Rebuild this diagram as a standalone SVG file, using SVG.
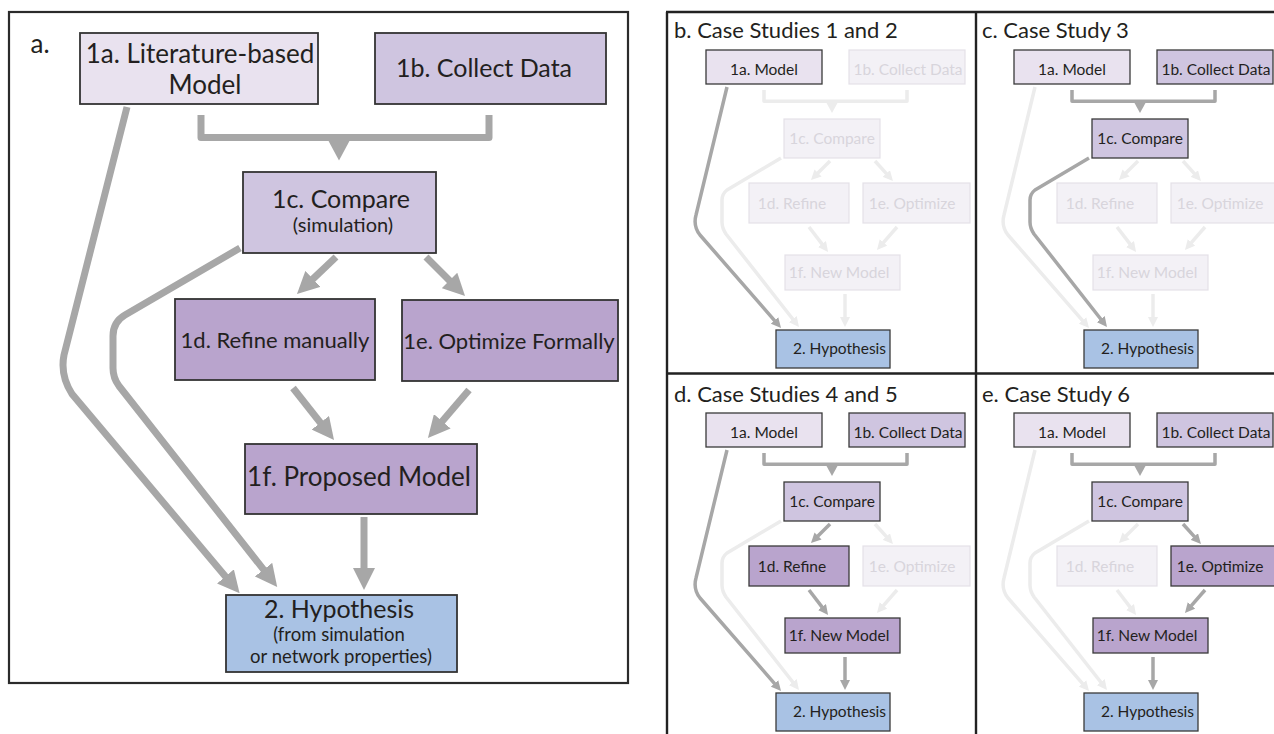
<svg xmlns="http://www.w3.org/2000/svg" width="1274" height="734" viewBox="0 0 1274 734">
<style>
text{font-family:Lato,"Open Sans","Liberation Sans",sans-serif;fill:#231f20;text-anchor:middle}
.frame{fill:none;stroke:#2b2b2b;stroke-width:2.2}
.bx{stroke:#333;stroke-width:1.8}
.sb{stroke:#3a3a3a;stroke-width:1.3}
.c1{fill:#e9e2ef}.c2{fill:#cfc5e0}.c3{fill:#b9a4cd}.c4{fill:#a9c2e4}
.big{font-size:25px}.mid{font-size:22px}.sm{font-size:18.5px}.mini{font-size:15.5px}
.title{font-size:22px;text-anchor:start}
.fade rect{fill:#f3f1f6;stroke:#e4e1e8;stroke-width:1.2}
.fade text{fill:#d8d5dc}
.la{fill:none;stroke:#a7a7a7;stroke-width:7;stroke-linejoin:round}
.lb{fill:none;stroke:#a7a7a7;stroke-width:3.5;stroke-linejoin:round}
.lf{fill:none;stroke:#ececec;stroke-width:3.5;stroke-linejoin:round}
.ta{fill:#a7a7a7}.tf{fill:#ececec}
</style>
<defs>
<marker id="ahA" viewBox="0 0 22 22" markerUnits="userSpaceOnUse" markerWidth="22" markerHeight="22" refX="1" refY="11" orient="auto"><path d="M0,0 L22,11 L0,22 z" fill="#a7a7a7"/></marker>
<marker id="ahB" viewBox="0 0 10 10" markerUnits="userSpaceOnUse" markerWidth="10" markerHeight="10" refX="0.5" refY="5" orient="auto"><path d="M0,0 L10,5 L0,10 z" fill="#a7a7a7"/></marker>
<marker id="ahF" viewBox="0 0 10 10" markerUnits="userSpaceOnUse" markerWidth="10" markerHeight="10" refX="0.5" refY="5" orient="auto"><path d="M0,0 L10,5 L0,10 z" fill="#ececec"/></marker>
</defs>

<!-- Panel a -->
<g id="panel-a">
<rect class="frame" x="9" y="12" width="619" height="671"/>
<text x="40" y="53" style="font-size:26px">a.</text>
<g id="a-connectors">
<path class="la" d="M201,115 V137.5 H489 V115" stroke-linejoin="miter"/>
<polygon class="ta" points="328,140 350,140 339,160.5"/>
<path class="la" d="M336,257 L312.2,279.6" marker-end="url(#ahA)"/>
<path class="la" d="M426,257 L450.2,281.2" marker-end="url(#ahA)"/>
<path class="la" d="M293,388 L321,423.5" marker-end="url(#ahA)"/>
<path class="la" d="M469,390 L441.6,422" marker-end="url(#ahA)"/>
<path class="la" d="M364,517 L364,569" marker-end="url(#ahA)"/>
<path class="la" d="M127,107 L64,355 Q60,375 72,394 L226.1,577.2" marker-end="url(#ahA)"/>
<path class="la" d="M240,248 L125,315 Q113,322 113,336 L113,368 Q113,378 119,386 L264.2,570.4" marker-end="url(#ahA)"/>
</g>
<g id="a-1a"><rect class="bx c1" x="80" y="33" width="238" height="71"/><text class="big" x="200" y="63" style="font-size:26px">1a. Literature-based</text><text class="big" x="205" y="94" style="font-size:26px">Model</text></g>
<g id="a-1b"><rect class="bx c2" x="375" y="33" width="231" height="71"/><text class="big" x="484" y="77">1b. Collect Data</text></g>
<g id="a-1c"><rect class="bx c2" x="243" y="172" width="193" height="81"/><text class="big" x="341" y="208">1c. Compare</text><text class="sm" x="343" y="232" style="font-size:20px">(simulation)</text></g>
<g id="a-1d"><rect class="bx c3" x="175" y="299" width="200" height="81"/><text class="mid" x="275" y="348">1d. Refine manually</text></g>
<g id="a-1e"><rect class="bx c3" x="402" y="300" width="216" height="81"/><text class="mid" x="509" y="349">1e. Optimize Formally</text></g>
<g id="a-1f"><rect class="bx c3" x="245" y="444" width="232" height="70"/><text class="big" x="359" y="486" style="font-size:26px">1f. Proposed Model</text></g>
<g id="a-2"><rect class="bx c4" x="226" y="595" width="231" height="77"/><text class="big" x="339" y="618">2. Hypothesis</text><text class="sm" x="339" y="641">(from simulation</text><text class="sm" x="341" y="663">or network properties)</text></g>
</g>

<!-- Right frames -->
<g id="frames-right" fill="none" stroke="#222" stroke-width="2.4">
<path d="M666,12 H1274 M667,12 V734 M976,12 V734 M666,373.5 H1274"/>
</g>

<!-- Panel b -->
<g id="panel-b">
<text class="title" x="674" y="38">b. Case Studies 1 and 2</text>
<g id="b-connectors">
<path class="lf" d="M764,90 V101.3 H907 V90" stroke-linejoin="miter"/>
<polygon class="tf" points="826.5,103 837.5,103 832,113"/>
<path class="lf" d="M781,158 L727,190 Q722,194 722,200 L722,222 Q722,228 726,234 L793.1,319.5" marker-end="url(#ahF)"/>
<path class="lf" d="M830,161 L817.7,173.3" marker-end="url(#ahF)"/>
<path class="lf" d="M875,161 L886.6,173.9" marker-end="url(#ahF)"/>
<path class="lf" d="M809,227 L822.3,244.4" marker-end="url(#ahF)"/>
<path class="lf" d="M897,227 L883.2,242.8" marker-end="url(#ahF)"/>
<path class="lf" d="M845,294 L845,317.5" marker-end="url(#ahF)"/>
<path class="lb" d="M727,87 L696,215 Q693,226 700,235 L774.8,320.8" marker-end="url(#ahB)"/>
</g>
<g id="b-1a"><rect class="sb c1" x="706" y="50" width="116" height="34"/><text class="mini" x="764" y="75">1a. Model</text></g>
<g id="b-1b" class="fade"><rect x="849" y="50" width="116" height="34"/><text class="mini" x="908" y="75">1b. Collect Data</text></g>
<g id="b-1c" class="fade"><rect x="784" y="119" width="96" height="39"/><text class="mini" x="832" y="144">1c. Compare</text></g>
<g id="b-1d" class="fade"><rect x="749" y="183" width="100" height="40"/><text class="mini" x="792" y="209">1d. Refine</text></g>
<g id="b-1e" class="fade"><rect x="863" y="183" width="107" height="40"/><text class="mini" x="912" y="209">1e. Optimize</text></g>
<g id="b-1f" class="fade"><rect x="785" y="255" width="115" height="35"/><text class="mini" x="839" y="278">1f. New Model</text></g>
<g id="b-2"><rect class="sb c4" x="776" y="330" width="114" height="38"/><text class="mini" x="839.5" y="354">2. Hypothesis</text></g>
</g>

<!-- Panel c -->
<g id="panel-c" transform="translate(308,0)">
<text class="title" x="674" y="38">c. Case Study 3</text>
<g id="c-connectors">
<path class="lf" d="M727,87 L696,215 Q693,226 700,235 L774.8,320.8" marker-end="url(#ahF)"/>
<path class="lf" d="M830,161 L817.7,173.3" marker-end="url(#ahF)"/>
<path class="lf" d="M875,161 L886.6,173.9" marker-end="url(#ahF)"/>
<path class="lf" d="M809,227 L822.3,244.4" marker-end="url(#ahF)"/>
<path class="lf" d="M897,227 L883.2,242.8" marker-end="url(#ahF)"/>
<path class="lf" d="M845,294 L845,317.5" marker-end="url(#ahF)"/>
<path class="lb" d="M764,90 V101.3 H907 V90" stroke-linejoin="miter"/>
<polygon class="ta" points="826.5,103 837.5,103 832,113"/>
<path class="lb" d="M781,158 L727,190 Q722,194 722,200 L722,222 Q722,228 726,234 L793.1,319.5" marker-end="url(#ahB)"/>
</g>
<g id="c-1a"><rect class="sb c1" x="706" y="50" width="116" height="34"/><text class="mini" x="764" y="75">1a. Model</text></g>
<g id="c-1b"><rect class="sb c2" x="849" y="50" width="116" height="34"/><text class="mini" x="908" y="75">1b. Collect Data</text></g>
<g id="c-1c"><rect class="sb c2" x="784" y="119" width="96" height="39"/><text class="mini" x="832" y="144">1c. Compare</text></g>
<g id="c-1d" class="fade"><rect x="749" y="183" width="100" height="40"/><text class="mini" x="792" y="209">1d. Refine</text></g>
<g id="c-1e" class="fade"><rect x="863" y="183" width="107" height="40"/><text class="mini" x="912" y="209">1e. Optimize</text></g>
<g id="c-1f" class="fade"><rect x="785" y="255" width="115" height="35"/><text class="mini" x="839" y="278">1f. New Model</text></g>
<g id="c-2"><rect class="sb c4" x="776" y="330" width="114" height="38"/><text class="mini" x="839.5" y="354">2. Hypothesis</text></g>
</g>

<!-- Panel d -->
<g id="panel-d" transform="translate(0,363)">
<text class="title" x="674" y="38.5">d. Case Studies 4 and 5</text>
<g id="d-connectors">
<path class="lf" d="M781,158 L727,190 Q722,194 722,200 L722,222 Q722,228 726,234 L793.1,319.5" marker-end="url(#ahF)"/>
<path class="lf" d="M875,161 L886.6,173.9" marker-end="url(#ahF)"/>
<path class="lf" d="M897,227 L883.2,242.8" marker-end="url(#ahF)"/>
<path class="lb" d="M764,90 V101.3 H907 V90" stroke-linejoin="miter"/>
<polygon class="ta" points="826.5,103 837.5,103 832,113"/>
<path class="lb" d="M830,161 L817.7,173.3" marker-end="url(#ahB)"/>
<path class="lb" d="M809,227 L822.3,244.4" marker-end="url(#ahB)"/>
<path class="lb" d="M845,294 L845,317.5" marker-end="url(#ahB)"/>
<path class="lb" d="M727,87 L696,215 Q693,226 700,235 L774.8,320.8" marker-end="url(#ahB)"/>
</g>
<g id="d-1a"><rect class="sb c1" x="706" y="50" width="116" height="34"/><text class="mini" x="764" y="75">1a. Model</text></g>
<g id="d-1b"><rect class="sb c2" x="849" y="50" width="116" height="34"/><text class="mini" x="908" y="75">1b. Collect Data</text></g>
<g id="d-1c"><rect class="sb c2" x="784" y="119" width="96" height="39"/><text class="mini" x="832" y="144">1c. Compare</text></g>
<g id="d-1d"><rect class="sb c3" x="749" y="183" width="100" height="40"/><text class="mini" x="792" y="209">1d. Refine</text></g>
<g id="d-1e" class="fade"><rect x="863" y="183" width="107" height="40"/><text class="mini" x="912" y="209">1e. Optimize</text></g>
<g id="d-1f"><rect class="sb c3" x="785" y="255" width="115" height="35"/><text class="mini" x="839" y="278">1f. New Model</text></g>
<g id="d-2"><rect class="sb c4" x="776" y="330" width="114" height="38"/><text class="mini" x="839.5" y="354">2. Hypothesis</text></g>
</g>

<!-- Panel e -->
<g id="panel-e" transform="translate(308,363)">
<text class="title" x="674" y="38.5">e. Case Study 6</text>
<g id="e-connectors">
<path class="lf" d="M727,87 L696,215 Q693,226 700,235 L774.8,320.8" marker-end="url(#ahF)"/>
<path class="lf" d="M781,158 L727,190 Q722,194 722,200 L722,222 Q722,228 726,234 L793.1,319.5" marker-end="url(#ahF)"/>
<path class="lf" d="M830,161 L817.7,173.3" marker-end="url(#ahF)"/>
<path class="lf" d="M809,227 L822.3,244.4" marker-end="url(#ahF)"/>
<path class="lb" d="M764,90 V101.3 H907 V90" stroke-linejoin="miter"/>
<polygon class="ta" points="826.5,103 837.5,103 832,113"/>
<path class="lb" d="M875,161 L886.6,173.9" marker-end="url(#ahB)"/>
<path class="lb" d="M897,227 L883.2,242.8" marker-end="url(#ahB)"/>
<path class="lb" d="M845,294 L845,317.5" marker-end="url(#ahB)"/>
</g>
<g id="e-1a"><rect class="sb c1" x="706" y="50" width="116" height="34"/><text class="mini" x="764" y="75">1a. Model</text></g>
<g id="e-1b"><rect class="sb c2" x="849" y="50" width="116" height="34"/><text class="mini" x="908" y="75">1b. Collect Data</text></g>
<g id="e-1c"><rect class="sb c2" x="784" y="119" width="96" height="39"/><text class="mini" x="832" y="144">1c. Compare</text></g>
<g id="e-1d" class="fade"><rect x="749" y="183" width="100" height="40"/><text class="mini" x="792" y="209">1d. Refine</text></g>
<g id="e-1e"><rect class="sb c3" x="863" y="183" width="107" height="40"/><text class="mini" x="912" y="209">1e. Optimize</text></g>
<g id="e-1f"><rect class="sb c3" x="785" y="255" width="115" height="35"/><text class="mini" x="839" y="278">1f. New Model</text></g>
<g id="e-2"><rect class="sb c4" x="776" y="330" width="114" height="38"/><text class="mini" x="839.5" y="354">2. Hypothesis</text></g>
</g>
</svg>
